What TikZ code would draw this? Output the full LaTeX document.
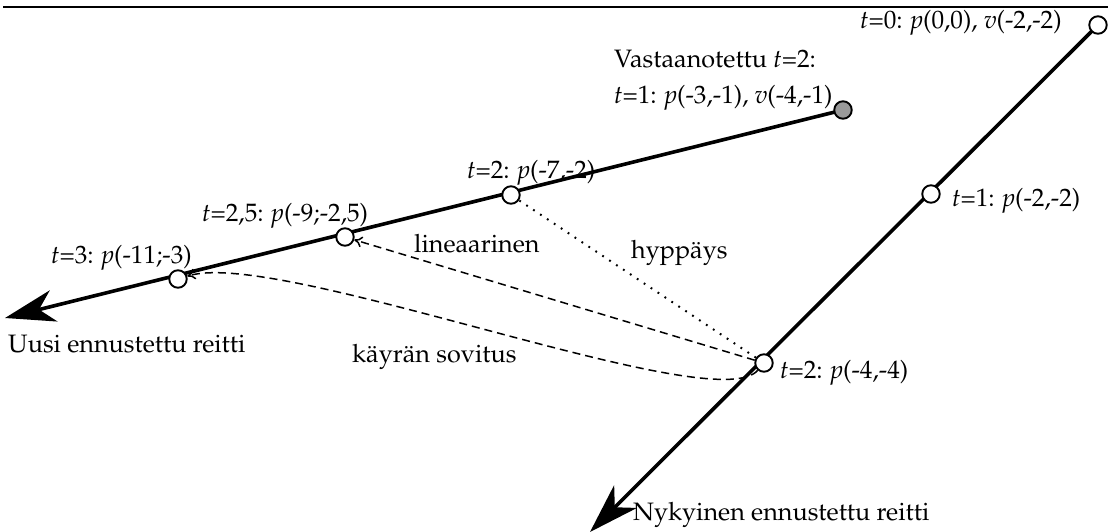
\documentclass[tikz,border=0pt]{standalone}
\usepackage[T1]{fontenc}
\usepackage{mathpazo}
\usetikzlibrary{arrows.meta}
\pgfdeclarelayer{background}
\pgfsetlayers{background,main}
\begin{document}
\begin{tikzpicture}[x=1pt,y=-1pt,
  pt/.style={circle,draw,line width=1.9pt,fill=white,minimum size=17.5pt,inner sep=0pt},
  gpt/.style={pt,fill=gray!80},
  route/.style={line width=3.6pt},
  big/.style={-{Stealth[length=50pt,width=32pt,inset=15pt]}},
  lbl/.style={anchor=base west,inner sep=0pt,font=\fontsize{25.2}{29}\selectfont},
  dsh/.style={line width=1.5pt,dash pattern=on 8pt off 5pt,-{To[length=8pt,width=11pt]}},
  dot/.style={line width=2pt,dash pattern=on 1.8pt off 6.5pt}]
\useasboundingbox (0,0) rectangle (1110,532);
\draw[line width=2.8pt] (3,7) -- (1108,7);
% points
\node[pt] (t0) at (1098,25) {};
\node[pt] (t1r) at (931,194) {};
\node[pt] (t2r) at (764,363) {};
\coordinate (tipR) at (590,532);
\node[gpt] (t1l) at (843,110) {};
\node[pt] (t2l) at (511,195) {};
\node[pt] (t25) at (345,237) {};
\node[pt] (t3) at (178,279) {};
\coordinate (tipL) at (5,318);
\begin{pgfonlayer}{background}
\draw[route,big] (t0.center) -- (tipR);
\draw[route,big] (t1l.center) -- (tipL);
\end{pgfonlayer}
\draw[dsh] (t2r) -- (t25);
\draw[dot] (t2r) -- (t2l);
\draw[dsh] (t2r) .. controls (715,420) and (280,248) .. (t3);
% labels
\node[lbl] (l0) at (860,29) {\textit{t}=0: \textit{p}(0,0), \textit{v}(-2,-2)};
\node[lbl] (lva) at (614,68) {Vastaanotettu \textit{t}=2:};
\node[lbl] (l1l) at (614,104) {\textit{t}=1: \textit{p}(-3,-1), \textit{v}(-4,-1)};
\node[lbl] (l2l) at (467,178) {\textit{t}=2: \textit{p}(-7,-2)};
\node[lbl] (l25) at (202,221) {\textit{t}=2,5: \textit{p}(-9;-2,5)};
\node[lbl] (l3) at (51,263) {\textit{t}=3: \textit{p}(-11;-3)};
\node[lbl] (llin) at (414,252) {lineaarinen};
\node[lbl] (lhyp) at (631,258) {hypp\"ays};
\node[lbl] (l1r) at (952,206) {\textit{t}=1: \textit{p}(-2,-2)};
\node[lbl] (l2r) at (780,378) {\textit{t}=2: \textit{p}(-4,-4)};
\node[lbl] (luusi) at (8,352) {Uusi ennustettu reitti};
\node[lbl] (lkay) at (352,362) {k\"ayr\"an sovitus};
\node[lbl] (lnyk) at (633,520) {Nykyinen ennustettu reitti};
\end{tikzpicture}
\end{document}
